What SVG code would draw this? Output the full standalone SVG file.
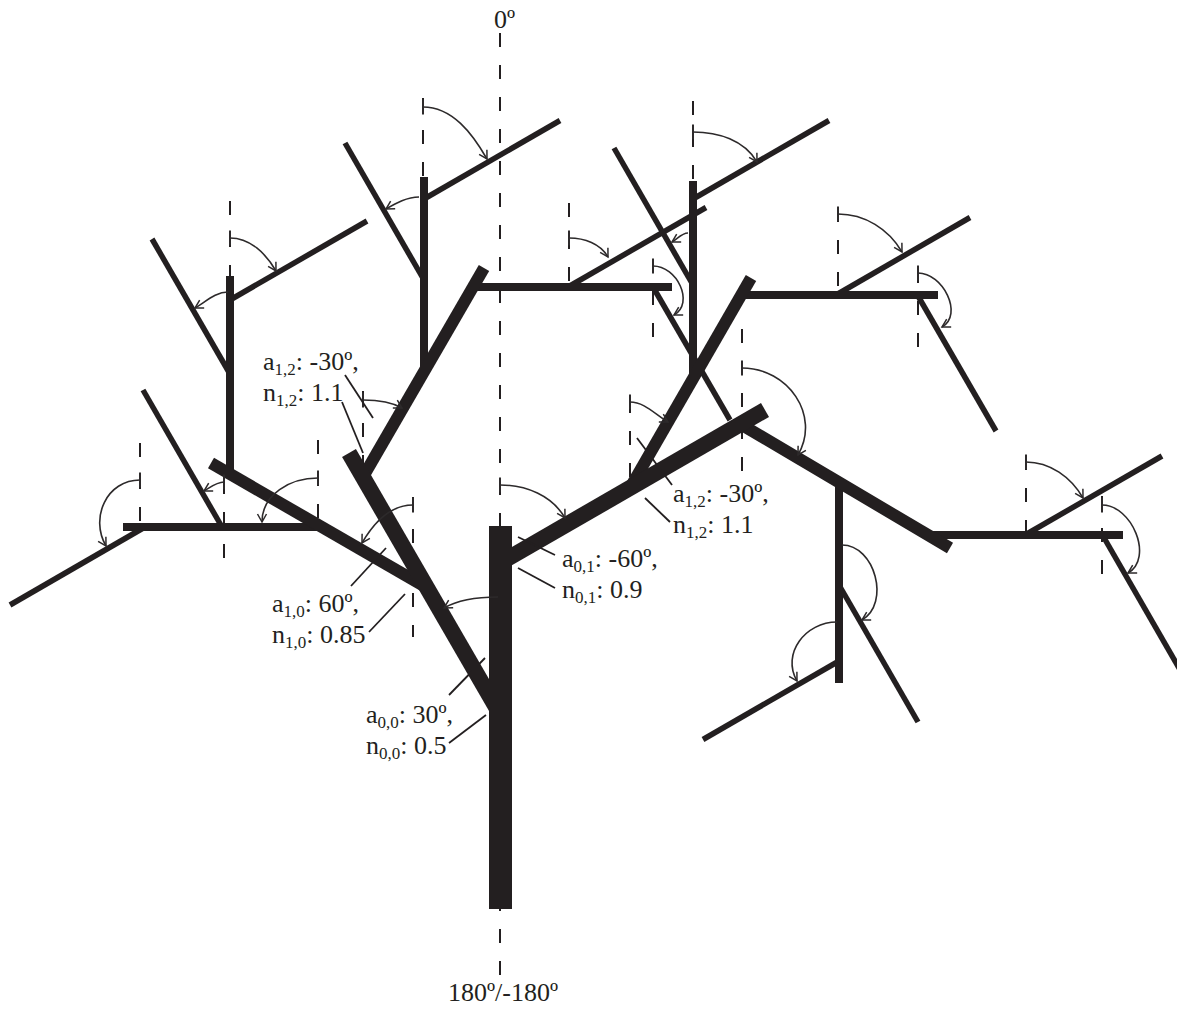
<svg xmlns="http://www.w3.org/2000/svg" width="1177" height="1009" viewBox="0 0 1177 1009">
<defs>
<style>
.b line{stroke:#231f20;fill:none;stroke-linecap:butt}
.l1 line{stroke-width:16}
.l2 line{stroke-width:12}
.l3 line{stroke-width:8}
.l4 line{stroke-width:5.5}
.d line{stroke:#231f20;stroke-width:2;stroke-dasharray:14 18;fill:none}
.arcs path{stroke:#2d2a2b;stroke-width:1.6;fill:none;marker-end:url(#ah)}
.arcs path.tk{marker-start:url(#tick)}
.ld line{stroke:#231f20;stroke-width:1.8}
text{font-family:"Liberation Serif","Times New Roman",serif;font-size:26px;fill:#231f20}
.s{font-size:17px}
</style>
<marker id="ah" markerUnits="userSpaceOnUse" orient="auto" viewBox="-10 -10 20 20" markerWidth="20" markerHeight="20" refX="0" refY="0" overflow="visible"><path d="M-8,-4.5 L0,0 L-8,4.5" fill="none" stroke="#2d2a2b" stroke-width="1.5"/></marker>
<marker id="tick" markerUnits="userSpaceOnUse" orient="auto" viewBox="-10 -10 20 20" markerWidth="20" markerHeight="20" refX="0" refY="0" overflow="visible"><path d="M0,-7.5 L0,7.5" fill="none" stroke="#2d2a2b" stroke-width="2"/></marker>
</defs>
<rect width="1177" height="1009" fill="#fff"/>

<g id="reference-lines" class="d">
<line x1="500" y1="33" x2="500" y2="975"/>
<line x1="413" y1="497" x2="413" y2="637"/>
<line x1="363" y1="391" x2="363" y2="469"/>
<line x1="318" y1="440" x2="318" y2="518"/>
<line x1="224" y1="480" x2="224" y2="558"/>
<line x1="140" y1="443" x2="140" y2="521"/>
<line x1="230" y1="201" x2="230" y2="279"/>
<line x1="423" y1="98" x2="423" y2="176"/>
<line x1="569" y1="203" x2="569" y2="281"/>
<line x1="653" y1="259" x2="653" y2="337"/>
<line x1="693" y1="101" x2="693" y2="179"/>
<line x1="630" y1="399" x2="630" y2="477"/>
<line x1="742" y1="329" x2="742" y2="471"/>
<line x1="838" y1="208" x2="838" y2="286"/>
<line x1="918" y1="269" x2="918" y2="347"/>
<line x1="1026" y1="456" x2="1026" y2="534"/>
<line x1="1102" y1="496" x2="1102" y2="574"/>
</g>

<g id="branches" class="b">
<g id="level4" class="l4">
<line x1="145" y1="527" x2="10" y2="605"/>
<line x1="222" y1="527" x2="143" y2="390"/>
<line x1="230" y1="300" x2="367" y2="221"/>
<line x1="230" y1="374" x2="152" y2="239"/>
<line x1="424" y1="199" x2="560" y2="120.5"/>
<line x1="424" y1="280" x2="345" y2="143"/>
<line x1="568" y1="287" x2="706" y2="207.5"/>
<line x1="653" y1="287" x2="730" y2="420"/>
<line x1="693" y1="199" x2="829" y2="120.5"/>
<line x1="693" y1="285" x2="614" y2="148"/>
<line x1="836" y1="295" x2="970" y2="217.5"/>
<line x1="918" y1="296" x2="996" y2="431"/>
<line x1="839" y1="585" x2="918" y2="722"/>
<line x1="839" y1="661" x2="703" y2="739.5"/>
<line x1="1025" y1="535" x2="1162" y2="456"/>
<line x1="1103" y1="536" x2="1183" y2="675"/>
</g>
<g id="level3" class="l3">
<line x1="123" y1="527" x2="322" y2="527"/>
<line x1="230" y1="472" x2="230" y2="276"/>
<line x1="424" y1="371" x2="424" y2="177"/>
<line x1="472" y1="287" x2="672" y2="287"/>
<line x1="693" y1="379" x2="693" y2="181"/>
<line x1="741" y1="295" x2="938" y2="295"/>
<line x1="839" y1="480" x2="839" y2="683"/>
<line x1="932" y1="535" x2="1123" y2="535"/>
</g>
<g id="level2" class="l2">
<line x1="424" y1="586" x2="211" y2="463"/>
<line x1="363" y1="477" x2="484" y2="268"/>
<line x1="630" y1="488" x2="751" y2="278"/>
<line x1="742" y1="425" x2="950" y2="548"/>
</g>
<g id="level1" class="l1">
<line x1="500" y1="714" x2="349" y2="453"/>
<line x1="500" y1="563" x2="765" y2="410"/>
</g>
<rect id="trunk" x="489" y="526" width="23" height="383" fill="#231f20"/>
</g>

<g id="angle-arcs" class="arcs">
<path class="tk" d="M500,485 C526,485 552,495.5 565,518"/>
<path d="M498,597 C480.7,597 460.7,598.3 444,608"/>
<path class="tk" d="M413,505 C390.3,505 373.4,523.3 362,543"/>
<path class="tk" d="M363,400 C376.5,400 390.3,401.25 402,408"/>
<path class="tk" d="M318,478 C290.2,478 262,494.2 262,522"/>
<path class="tk" d="M224,482 C216.6,482 210.4,487.3 204,491"/>
<path class="tk" d="M140,480 C107,480 89.5,517.4 106,546"/>
<path class="tk" d="M230,238 C250.2,238 265.9,253.5 276,271"/>
<path d="M228,292 C215.6,292 205.7,301.8 195,308"/>
<path class="tk" d="M423,107 C452.4,107 472.3,133.5 487,159"/>
<path d="M419,197 C407.1,197 396.3,203 386,209"/>
<path class="tk" d="M569,238 C584.5,238 600.3,243.6 608,257"/>
<path class="tk" d="M653,266 C677,266 694.8,303 674,315"/>
<path class="tk" d="M693,132 C718.2,132 744.4,140.2 757,162"/>
<path d="M688,233 C681.8,233 677.4,238.9 672,242"/>
<path class="tk" d="M742,368 C788,368 821,415.2 798,455"/>
<path class="tk" d="M838,214 C864.6,214 888.7,229 902,252"/>
<path class="tk" d="M918,273 C943,273 963.7,314.5 942,327"/>
<path class="tk" d="M630,402 C644.5,402 655.4,414.7 668,422"/>
<path d="M842,545 C875,545 890.6,603.5 862,620"/>
<path d="M837,622 C805.4,622 781.2,653.6 797,681"/>
<path class="tk" d="M1026,462 C1050,462 1071,477.2 1083,498"/>
<path class="tk" d="M1102,505 C1132,505 1154,558 1128,573"/>
</g>

<g id="leaders" class="ld">
<line x1="485" y1="658" x2="449" y2="695"/>
<line x1="486" y1="715" x2="449" y2="743"/>
<line x1="386" y1="548" x2="351" y2="586"/>
<line x1="405" y1="594" x2="369" y2="632"/>
<line x1="518" y1="537" x2="555" y2="555"/>
<line x1="518" y1="568" x2="555" y2="588"/>
<line x1="637" y1="438" x2="672" y2="485"/>
<line x1="645" y1="498" x2="670" y2="522"/>
<line x1="345" y1="375" x2="373" y2="418"/>
<line x1="342" y1="402" x2="363" y2="453"/>
</g>

<g id="labels">
<text x="494" y="28">0º</text>
<text x="448" y="1001">180º/-180º</text>
<text x="366" y="723">a<tspan class="s" dy="5">0,0</tspan><tspan dy="-5">: 30º,</tspan></text>
<text x="366" y="754">n<tspan class="s" dy="5">0,0</tspan><tspan dy="-5">: 0.5</tspan></text>
<text x="272" y="612">a<tspan class="s" dy="5">1,0</tspan><tspan dy="-5">: 60º,</tspan></text>
<text x="272" y="643">n<tspan class="s" dy="5">1,0</tspan><tspan dy="-5">: 0.85</tspan></text>
<text x="562" y="567">a<tspan class="s" dy="5">0,1</tspan><tspan dy="-5">: -60º,</tspan></text>
<text x="562" y="598">n<tspan class="s" dy="5">0,1</tspan><tspan dy="-5">: 0.9</tspan></text>
<text x="673" y="502">a<tspan class="s" dy="5">1,2</tspan><tspan dy="-5">: -30º,</tspan></text>
<text x="673" y="533">n<tspan class="s" dy="5">1,2</tspan><tspan dy="-5">: 1.1</tspan></text>
<text x="263" y="370">a<tspan class="s" dy="5">1,2</tspan><tspan dy="-5">: -30º,</tspan></text>
<text x="263" y="401">n<tspan class="s" dy="5">1,2</tspan><tspan dy="-5">: 1.1</tspan></text>
</g>
</svg>
